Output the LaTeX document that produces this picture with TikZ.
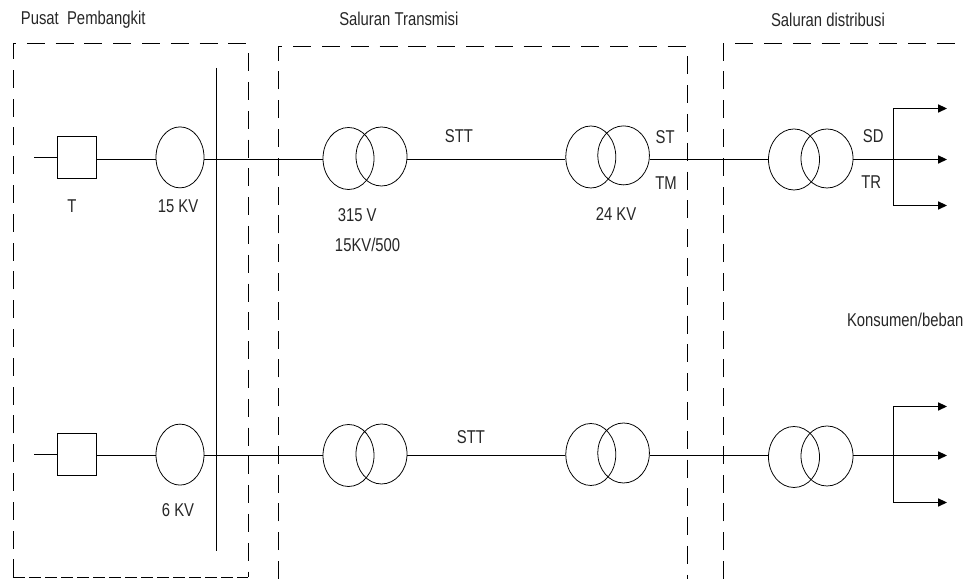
\documentclass[tikz,border=0pt]{standalone}
\usepackage{fontspec}
\setmainfont[FakeStretch=0.8]{Liberation Sans}
\usetikzlibrary{arrows.meta,shapes.geometric}
\tikzset{
  wire/.style={black, line width=0.85pt},
  frame/.style={black, line width=0.7pt, dash pattern=on 0.45cm off 0.27cm},
  frameshort/.style={black, line width=0.7pt, dash pattern=on 0.3cm off 0.1cm},
  genbox/.style={draw=black, line width=0.7pt, minimum width=9.75mm,
                 minimum height=10.5mm, inner sep=0pt},
  coil/.style={ellipse, draw=black, line width=0.55pt, minimum width=12.75mm,
               minimum height=15.5mm, inner sep=0pt},
  lab/.style={font=\fontsize{13.2}{15}\selectfont, text=black!85, inner sep=0pt},
  feed/.style={-{Triangle[length=2.2mm,width=2mm]}, line width=0.85pt},
}
\begin{document}
\begin{tikzpicture}[x=1cm,y=1cm]
  \path[use as bounding box] (0,0) rectangle (24.1,14.475);

  \node[lab] (PUSAT) at (2.08,13.99) {Pusat\ \ Pembangkit};
  \node[lab] (TRANS) at (9.97,14.01) {Saluran Transmisi};
  \node[lab] (DIST) at (20.7,13.99) {Saluran distribusi};

  \draw[frame] (0.325,0.04) -- (0.325,13.375) -- (6.2,13.375) -- (6.2,0.04);
  \draw[frameshort] (0.325,0.04) -- (6.2,0.04);
  \draw[frame] (6.95,0) -- (6.95,13.3) -- (17.175,13.3) -- (17.175,0);
  \draw[frame] (18.075,0) -- (18.075,13.375) -- (24.1,13.375);

  \coordinate (BUSTOP) at (5.41,12.775);
  \coordinate (BUSBOT) at (5.41,0.7);
  \coordinate (JA) at (5.41,10.4875);
  \coordinate (JB) at (5.41,3.0875);
  \draw[wire] (BUSTOP) -- (BUSBOT);

  \node[genbox] (GA) at (1.925,10.525) {};
  \node[coil, minimum width=12mm, minimum height=15.25mm] (EXA) at (4.5,10.54) {};
  \node[coil] (TA1) at (8.7125,10.5125) {};
  \node[coil, minimum height=14.75mm] (TA2) at (9.5375,10.5625) {};
  \node[coil, minimum width=12.5mm] (TB1) at (14.77,10.55) {};
  \node[coil, minimum width=12.9mm, minimum height=14.75mm] (TB2) at (15.59,10.59) {};
  \node[coil, minimum height=15.25mm] (TC1) at (19.85,10.4875) {};
  \node[coil, minimum width=13mm, minimum height=14.75mm] (TC2) at (20.675,10.5125) {};

  \node[genbox] (GB) at (1.925,3.1) {};
  \node[coil, minimum width=12mm, minimum height=15.25mm] (EXB) at (4.5,3.11) {};
  \node[coil] (UA1) at (8.7125,3.0875) {};
  \node[coil, minimum height=15mm] (UA2) at (9.5375,3.125) {};
  \node[coil, minimum width=12.5mm] (UB1) at (14.77,3.1125) {};
  \node[coil, minimum width=12.9mm, minimum height=15mm] (UB2) at (15.59,3.15) {};
  \node[coil, minimum height=15.25mm] (UC1) at (19.85,3.05) {};
  \node[coil, minimum width=13mm, minimum height=15mm] (UC2) at (20.675,3.075) {};

  \coordinate (STUBA) at (0.85,10.5375);
  \coordinate (STUBB) at (0.85,3.1125);
  \draw[wire] (STUBA) -- (STUBA -| GA.west);
  \draw[wire] (JA -| GA.east) -- (JA -| EXA.west);
  \draw[wire] (JA -| EXA.east) -- (JA -| TA1.west);
  \draw[wire] (JA -| TA2.east) -- (JA -| TB1.west);
  \draw[wire] (JA -| TB2.east) -- (JA -| TC1.west);
  \draw[wire] (STUBB) -- (STUBB -| GB.west);
  \draw[wire] (JB -| GB.east) -- (JB -| EXB.west);
  \draw[wire] (JB -| EXB.east) -- (JB -| UA1.west);
  \draw[wire] (JB -| UA2.east) -- (JB -| UB1.west);
  \draw[wire] (JB -| UB2.east) -- (JB -| UC1.west);

  \coordinate (FORKA) at (22.33,10.4875);
  \coordinate (LOADA1) at (23.675,11.7625);
  \coordinate (LOADA2) at (23.675,10.4875);
  \coordinate (LOADA3) at (23.675,9.3375);
  \draw[wire] (FORKA -| TC2.east) -- (FORKA);
  \draw[feed] (FORKA) -- (LOADA2);
  \draw[feed] (LOADA3 -| FORKA) -- (LOADA1 -| FORKA) -- (LOADA1);
  \draw[feed] (LOADA3 -| FORKA) -- (LOADA3);

  \coordinate (FORKB) at (22.33,3.0875);
  \coordinate (LOADB1) at (23.675,4.3125);
  \coordinate (LOADB2) at (23.675,3.0875);
  \coordinate (LOADB3) at (23.675,1.9125);
  \draw[wire] (FORKB -| UC2.east) -- (FORKB);
  \draw[feed] (FORKB) -- (LOADB2);
  \draw[feed] (LOADB3 -| FORKB) -- (LOADB1 -| FORKB) -- (LOADB1);
  \draw[feed] (LOADB3 -| FORKB) -- (LOADB3);

  \node[lab] (LT) at (1.8,9.33) {T};
  \node[lab] (LEXA) at (4.45,9.33) {15 KV};
  \node[lab] (LEXB) at (4.45,1.72) {6 KV};
  \node[lab] (LVA) at (8.93,9.1) {315 V};
  \node[lab] (LVB) at (9.19,8.35) {15KV/500};
  \node[lab] (LSTTA) at (11.475,11.07) {STT};
  \node[lab] (LSTTB) at (11.775,3.55) {STT};
  \node[lab] (LKV) at (15.4,9.12) {24 KV};
  \node[lab] (LST) at (16.63,11.05) {ST};
  \node[lab] (LTM) at (16.65,9.9) {TM};
  \node[lab] (LSD) at (21.83,11.07) {SD};
  \node[lab] (LTR) at (21.78,9.92) {TR};
  \node[lab] (LOAD) at (22.63,6.47) {Konsumen/beban};
\end{tikzpicture}
\end{document}
